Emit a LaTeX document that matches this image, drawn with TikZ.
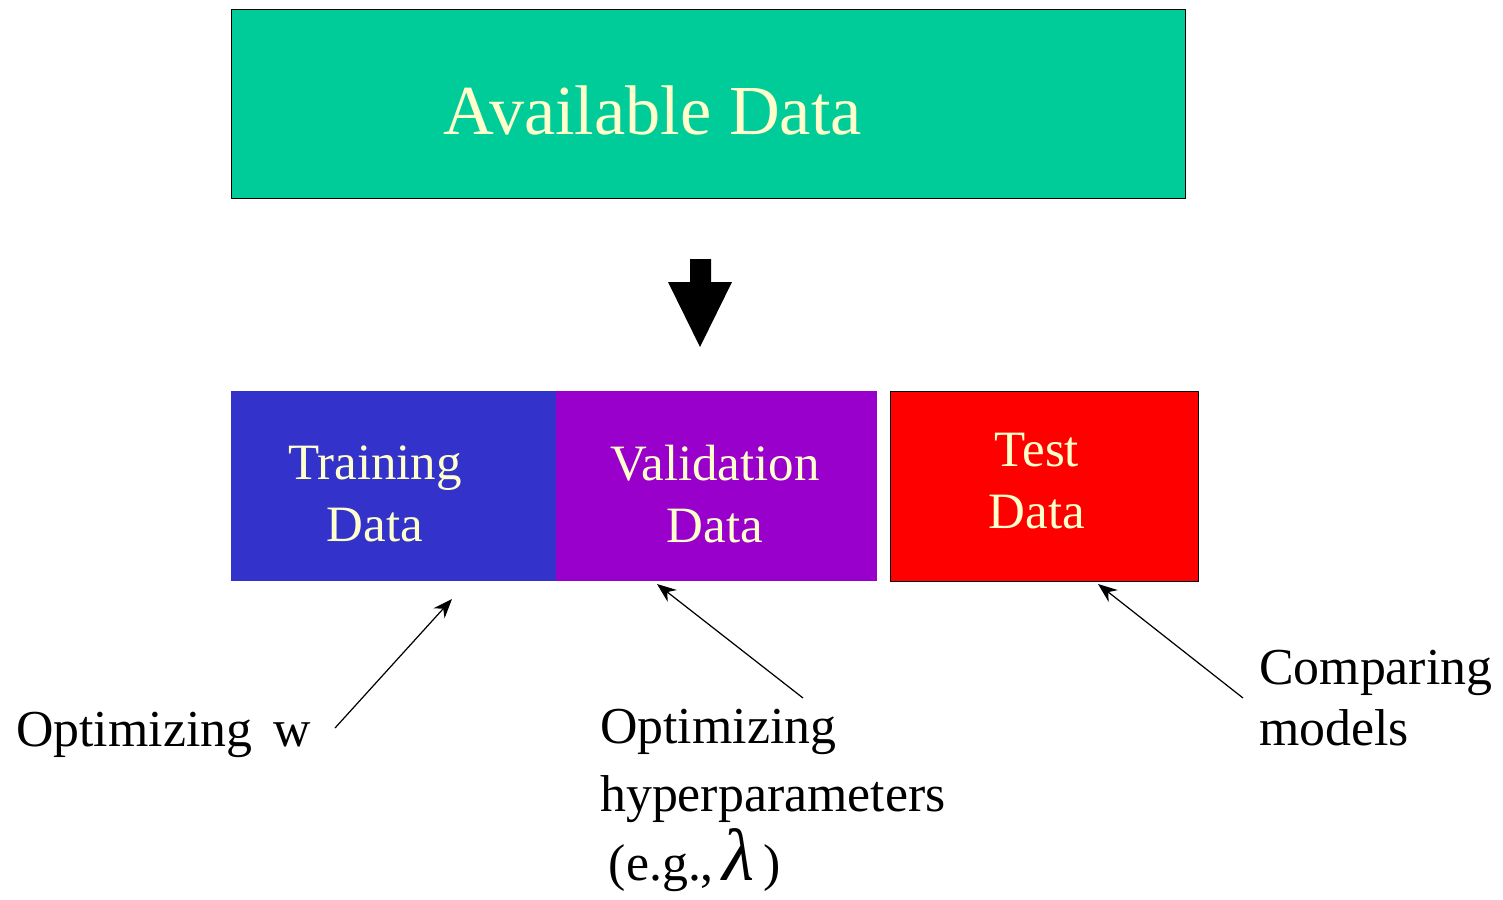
\documentclass[tikz,border=0pt]{standalone}
\usepackage{fontspec}
\setmainfont{Liberation Serif}
\usetikzlibrary{positioning, arrows.meta}
\definecolor{availgreen}{HTML}{00CC99}
\definecolor{trainblue}{HTML}{3333CC}
\definecolor{valpurple}{HTML}{9900CC}
\definecolor{testred}{HTML}{FF0000}
\definecolor{paleyellow}{HTML}{FFFFCC}
\tikzset{
  databox/.style={anchor=north west, inner sep=0pt, minimum height=3.8cm},
  boxtext/.style={text=paleyellow, align=center, font=\fontsize{29}{35}\selectfont},
  labeltext/.style={anchor=west, align=left, font=\fontsize{29.5}{35}\selectfont},
  pointer/.style={-{Stealth[length=11pt, width=8.5pt]}, line width=0.7pt}
}
\begin{document}
\begin{tikzpicture}[x=0.02cm, y=-0.02cm, line join=round]
    \useasboundingbox (0,0) rectangle (1503,899);
    % top box
    \node[databox, fill=availgreen, draw=black, line width=0.8pt, minimum width=19.08cm, minimum height=3.78cm] (avail) at (231,9) {};
    \node[boxtext, font=\fontsize{40}{48}\selectfont] (availtxt) at ([xshift=-1.12cm, yshift=-0.12cm]avail.center) {Available Data};
    % big arrow
    \fill (690,259) -- (711,259) -- (711,282) -- (732,282) -- (700,347) -- (668,282) -- (690,282) -- cycle;
    % split boxes
    \node[databox, fill=trainblue, minimum width=6.5cm] (train) at (231,391) {};
    \node[databox, fill=valpurple, minimum width=6.42cm] (val) at (556,391) {};
    \node[databox, fill=testred, draw=black, line width=0.8pt, minimum width=6.16cm] (test) at (890,391) {};
    \node[boxtext] (traintxt) at (375,494) {Training\\Data};
    \node[boxtext] (valtxt) at (715,494) {Validation\\Data};
    \node[boxtext] (testtxt) at (1037,481) {Test\\Data};
    % labels
    \node[labeltext] (optw) at (10,735) {Optimizing\, w};
    \node[labeltext, font=\fontsize{29.5}{39}\selectfont] (opthyp) at (594,800) {Optimizing\\hyperparameters\\\,(e.g.,\,{\fontsize{42}{40}\selectfont\textit{λ}}\,)};
    \node[labeltext] (comp) at (1253,698) {Comparing\\models};
    % pointers
    \coordinate (wtail) at (335,728);
    \coordinate (whead) at (452,599);
    \coordinate (htail) at (803,698);
    \coordinate (hhead) at (657,584);
    \coordinate (ctail) at (1243,698);
    \coordinate (chead) at (1098,584);
    \draw[pointer] (wtail) -- (whead);
    \draw[pointer] (htail) -- (hhead);
    \draw[pointer] (ctail) -- (chead);
\end{tikzpicture}
\end{document}
